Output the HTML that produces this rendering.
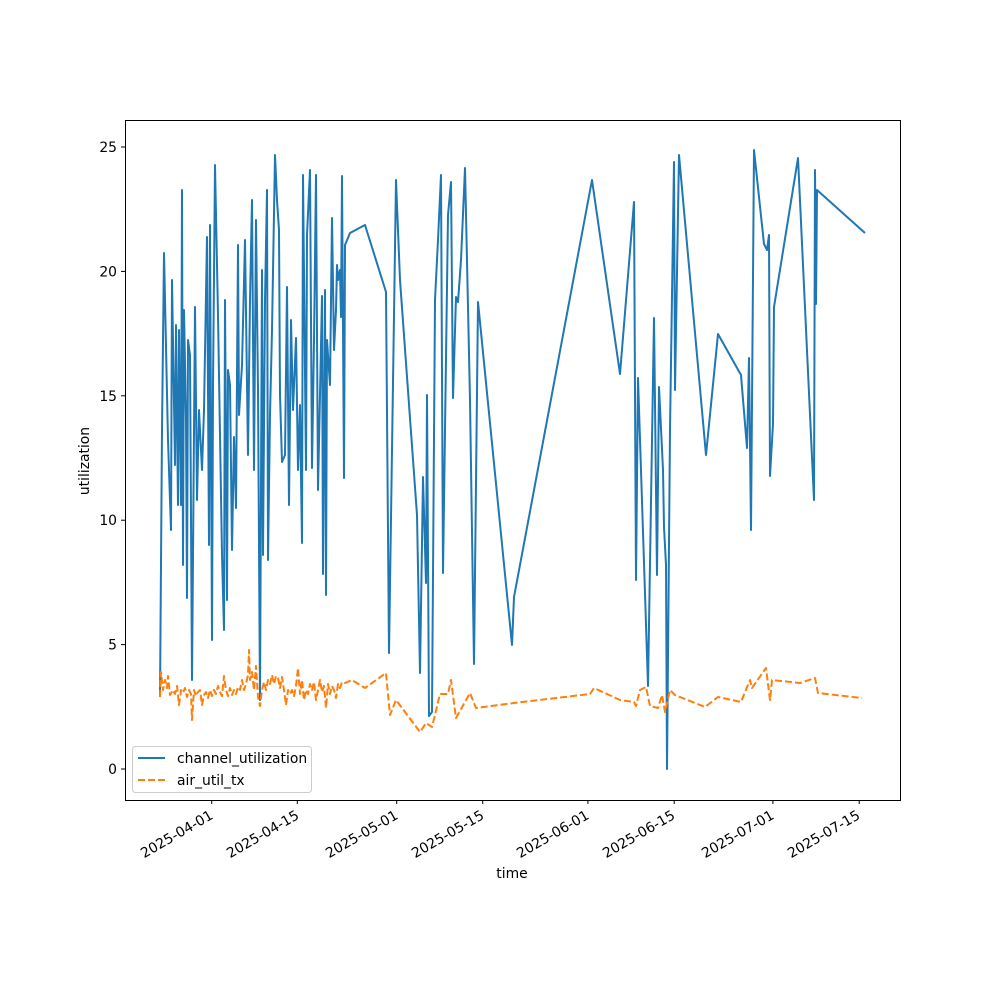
<!DOCTYPE html>
<html><head><meta charset="utf-8"><style>body{margin:0;background:#fff}svg{font-family:"DejaVu Sans","Liberation Sans",sans-serif}</style></head><body>
<svg width="1000" height="1000" viewBox="0 0 1000 1000">
<rect width="1000" height="1000" fill="#fff"/>
<polyline fill="none" stroke="#1f77b4" stroke-width="2" stroke-linejoin="round" points="160,697 162,430 164,253 168,440 171,530 172,280 175,465 176,325 178,505 179,330 181,505 182,190 183,565 184,310 186,420 187,598 188,340 190,355 192,680 195,307 197,500 199,410 202,470 204,410 207,237 209,545 210,225 212,640 213,385 215,165 218,315 222,555 224,630 225,300 227,600 228,370 230,385 232,550 234,437 236,508 238,245 239,415 242,365 245,240 248,455 250,300 252,200 254,470 256,220 258,390 260,700 262,270 263,555 265,300 267,190 268,560 270,415 272,330 275,155 277,200 279,230 280,395 282,462 285,455 287,287 289,505 291,320 293,410 296,338 298,470 300,405 302,543 303,175 306,470 307,235 310,170 312,468 314,340 316,175 318,490 320,395 322,296 323,574 325,290 326,595 327,340 330,385 332,218 334,350 336,310 337,265 338,280 340,270 341,317 342,176 344,478 345,245 350,233 365,225 386,292 389,653 396,180 400,280 417,515 420,673 423,477 426,583 427,395 429,716 432,712 435,300 438,240 441,175 443,573 448,215 451,182 453,398 456,297 458,302 461,260 465,168 470,400 474,664 478,302 512,645 514,597 592,180 620,374 634,202 636,580 638,378 648,686 654,318 657,575 659,387 663,470 664,527 666,565 667,769 670,430 674,162 675,390 679,155 706,455 718,334 741,375 747,448 749,358 751,530 754,150 764,244 767,250 769,235 770,476 773,424 774,307 798,158 814,500 815,170 816,304 817,190 865,233"/>
<polyline fill="none" stroke="#ff7f0e" stroke-width="2" stroke-dasharray="7,3" stroke-linejoin="round" points="160,697 161,672 163,690 165,680 167,688 168,676 170,695 173,690 175,694 177,686 179,705 181,690 183,693 185,688 187,697 189,690 191,694 192,720 194,690 196,696 198,692 200,690 202,705 204,695 206,692 208,698 210,690 212,696 214,690 216,694 218,686 220,692 222,696 224,676 226,690 228,696 230,688 232,695 234,690 236,694 238,687 240,690 242,680 244,690 246,684 248,675 249,650 250,680 252,672 254,690 256,666 258,697 260,706 262,690 264,682 266,690 268,680 270,684 272,675 274,684 276,676 278,678 280,688 282,677 284,690 286,705 288,690 290,694 292,690 294,696 296,686 298,668 300,694 302,680 304,700 306,690 308,694 310,684 312,690 314,682 316,700 318,690 320,680 322,692 324,686 326,708 328,684 330,694 332,686 334,690 336,698 338,684 340,688 342,682 345,683 352,680 365,688 386,673 390,715 396,700 420,732 426,723 432,727 440,694 448,694 451,680 456,718 470,693 476,708 514,703 590,694 594,688 620,700 634,702 636,706 640,690 646,687 650,706 658,708 662,695 665,712 670,690 675,695 705,707 718,697 741,702 750,680 752,688 766,668 770,700 772,680 800,683 815,678 818,693 862,698"/>
<rect x="125.5" y="120.5" width="775" height="680" fill="none" stroke="#000" stroke-width="1"/>
<g font-size="13.9" fill="#000">
<g stroke="#000"><line x1="121" x2="125" y1="769" y2="769"/><line x1="121" x2="125" y1="644.6" y2="644.6"/><line x1="121" x2="125" y1="520.2" y2="520.2"/><line x1="121" x2="125" y1="395.8" y2="395.8"/><line x1="121" x2="125" y1="271.4" y2="271.4"/><line x1="121" x2="125" y1="147" y2="147"/></g>
<g text-anchor="end"><text x="117" y="774">0</text><text x="117" y="649.6">5</text><text x="117" y="525.2">10</text><text x="117" y="400.8">15</text><text x="117" y="276.4">20</text><text x="117" y="152">25</text></g>
<g stroke="#000"><line x1="211.7" x2="211.7" y1="800" y2="804"/><line x1="297.3" x2="297.3" y1="800" y2="804"/><line x1="396.7" x2="396.7" y1="800" y2="804"/><line x1="482.7" x2="482.7" y1="800" y2="804"/><line x1="587.9" x2="587.9" y1="800" y2="804"/><line x1="674.2" x2="674.2" y1="800" y2="804"/><line x1="772.9" x2="772.9" y1="800" y2="804"/><line x1="859.2" x2="859.2" y1="800" y2="804"/></g>
<g text-anchor="end">
<text transform="translate(214,818) rotate(-30)">2025-04-01</text>
<text transform="translate(300,818) rotate(-30)">2025-04-15</text>
<text transform="translate(399,818) rotate(-30)">2025-05-01</text>
<text transform="translate(485,818) rotate(-30)">2025-05-15</text>
<text transform="translate(590,818) rotate(-30)">2025-06-01</text>
<text transform="translate(676,818) rotate(-30)">2025-06-15</text>
<text transform="translate(775,818) rotate(-30)">2025-07-01</text>
<text transform="translate(861,818) rotate(-30)">2025-07-15</text>
</g>
<text x="512" y="878" text-anchor="middle">time</text>
<text transform="translate(89,461) rotate(-90)" text-anchor="middle">utilization</text>
<rect x="132.5" y="746.5" width="179" height="46" rx="3" fill="#fff" stroke="#ccc"/>
<line x1="138" x2="165" y1="758" y2="758" stroke="#1f77b4" stroke-width="2"/>
<line x1="138" x2="165" y1="780" y2="780" stroke="#ff7f0e" stroke-width="2" stroke-dasharray="7,3"/>
<text x="177" y="763">channel_utilization</text>
<text x="177" y="785">air_util_tx</text>
</g>
</svg>
</body></html>
